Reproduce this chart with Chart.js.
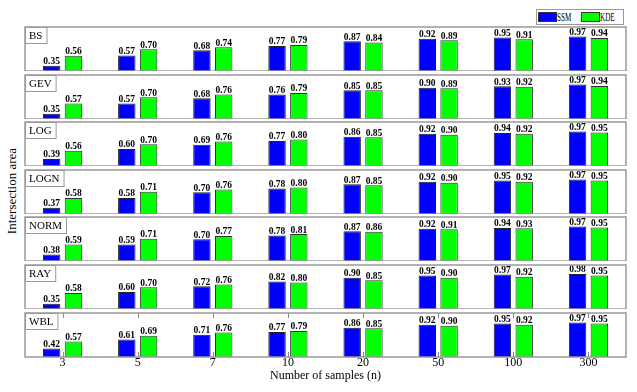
<!DOCTYPE html>
<html>
<head>
<meta charset="utf-8">
<script src="https://cdn.jsdelivr.net/npm/chart.js@4.4.1/dist/chart.umd.min.js"></script>
<style>
  body { margin: 0; background: #fff; }
  #wrap { position: relative; width: 637px; height: 392px; overflow: hidden; font-family: "Liberation Serif", serif; }
  canvas { position: absolute; left: 0; }
  #ytitle { position: absolute; left: 12px; top: 191px; transform: translate(-50%, -50%) rotate(-90deg); font-size: 13px; white-space: nowrap; }
  #legend { position: absolute; left: 536px; top: 9px; width: 86px; height: 14px; border: 1px solid #999; background: #fff; }
  .sw { position: absolute; top: 2px; width: 17px; height: 8px; border: 1px solid #333; }
  .lt { position: absolute; top: 0px; font-size: 11.5px; line-height: 14px; transform: scaleX(0.62); transform-origin: left center; }
</style>
</head>
<body>
<div id="wrap">
  <div id="ytitle">Intersection area</div>
  <div id="legend">
    <div class="sw" style="left:1px;background:#0000ff"></div><div class="lt" style="left:20px">SSM</div>
    <div class="sw" style="left:44px;background:#00ff00"></div><div class="lt" style="left:63px">KDE</div>
  </div>
</div>
<script>
const categories = ['3', '5', '7', '10', '20', '50', '100', '300'];
const panelNames = ['BS', 'GEV', 'LOG', 'LOGN', 'NORM', 'RAY', 'WBL'];

const ssmBS   = [0.35, 0.57, 0.68, 0.77, 0.87, 0.92, 0.95, 0.97];
const kdeBS   = [0.56, 0.70, 0.74, 0.79, 0.84, 0.89, 0.91, 0.94];
const ssmGEV  = [0.35, 0.57, 0.68, 0.76, 0.85, 0.90, 0.93, 0.97];
const kdeGEV  = [0.57, 0.70, 0.76, 0.79, 0.85, 0.89, 0.92, 0.94];
const ssmLOG  = [0.39, 0.60, 0.69, 0.77, 0.86, 0.92, 0.94, 0.97];
const kdeLOG  = [0.56, 0.70, 0.76, 0.80, 0.85, 0.90, 0.92, 0.95];
const ssmLOGN = [0.37, 0.58, 0.70, 0.78, 0.87, 0.92, 0.95, 0.97];
const kdeLOGN = [0.58, 0.71, 0.76, 0.80, 0.85, 0.90, 0.92, 0.95];
const ssmNORM = [0.38, 0.59, 0.70, 0.78, 0.87, 0.92, 0.94, 0.97];
const kdeNORM = [0.59, 0.71, 0.77, 0.81, 0.86, 0.91, 0.93, 0.95];
const ssmRAY  = [0.35, 0.60, 0.72, 0.82, 0.90, 0.95, 0.97, 0.98];
const kdeRAY  = [0.58, 0.70, 0.76, 0.80, 0.85, 0.90, 0.92, 0.95];
const ssmWBL  = [0.42, 0.61, 0.71, 0.77, 0.86, 0.92, 0.95, 0.97];
const kdeWBL  = [0.57, 0.69, 0.76, 0.79, 0.85, 0.90, 0.92, 0.95];

const ssmData = [ssmBS, ssmGEV, ssmLOG, ssmLOGN, ssmNORM, ssmRAY, ssmWBL];
const kdeData = [kdeBS, kdeGEV, kdeLOG, kdeLOGN, kdeNORM, kdeRAY, kdeWBL];

const panelTops = [27, 75, 122, 170, 217, 265, 313];
const panelHeight = 44;
const extraTop = 6; // room so labels are not clipped
const serif = '"Liberation Serif", "Times New Roman", serif';

// frame, name box, value labels
const panelPlugin = {
  id: 'panel',
  afterDatasetsDraw(chart) {
    const ctx = chart.ctx;
    ctx.save();
    ctx.font = 'bold 9.5px ' + serif;
    ctx.fillStyle = '#000';
    ctx.textAlign = 'center';
    ctx.textBaseline = 'alphabetic';
    chart.data.datasets.forEach((ds, i) => {
      chart.getDatasetMeta(i).data.forEach((bar, j) => {
        ctx.fillText(ds.data[j].toFixed(2), bar.x, bar.y - 1.5);
      });
    });
    ctx.restore();
  },
  afterDraw(chart, args, opts) {
    const ctx = chart.ctx;
    const a = chart.chartArea;
    ctx.save();
    ctx.strokeStyle = '#999';
    ctx.lineWidth = 1.5;
    ctx.strokeRect(a.left, a.top, a.right - a.left, a.bottom - a.top);

    if (opts.ticks) {
      const xs = chart.scales.x;
      ctx.lineWidth = 1;
      ctx.strokeStyle = '#888';
      ctx.beginPath();
      for (let i = 0; i < categories.length; i++) {
        const x = Math.round(xs.getPixelForTick(i)) + 0.5;
        ctx.moveTo(x, a.top); ctx.lineTo(x, a.top + 5);
        ctx.moveTo(x, a.bottom); ctx.lineTo(x, a.bottom - 5);
      }
      ctx.stroke();
    }

    ctx.font = '11px ' + serif;
    const w = ctx.measureText(opts.name).width + 8;
    ctx.fillStyle = '#fff';
    ctx.fillRect(a.left, a.top, w, 16);
    ctx.lineWidth = 1;
    ctx.strokeStyle = '#999';
    ctx.strokeRect(a.left + 0.5, a.top + 0.5, w, 16);
    ctx.fillStyle = '#000';
    ctx.textBaseline = 'middle';
    ctx.fillText(opts.name, a.left + 4, a.top + 9);
    ctx.restore();
  }
};

function makePanel(p) {
  const last = p === panelNames.length - 1;
  const canvas = document.createElement('canvas');
  const h = (last ? 392 - panelTops[p] : panelHeight) + extraTop;
  canvas.width = 637;
  canvas.height = h;
  canvas.style.top = (panelTops[p] - extraTop) + 'px';
  document.getElementById('wrap').appendChild(canvas);

  new Chart(canvas.getContext('2d'), {
    type: 'bar',
    data: {
      labels: categories,
      datasets: [
        { label: 'SSM', data: ssmData[p], backgroundColor: '#0000ff', borderColor: '#222', borderWidth: 1 },
        { label: 'KDE', data: kdeData[p], backgroundColor: '#00ff00', borderColor: '#333', borderWidth: 1 }
      ]
    },
    options: {
      responsive: false,
      animation: false,
      devicePixelRatio: 1,
      layout: { padding: { left: 25, right: 11, top: extraTop, bottom: last ? 10 : 0 } },
      datasets: { bar: { categoryPercentage: 0.58, barPercentage: 0.8 } },
      plugins: {
        legend: { display: false },
        tooltip: { enabled: false },
        panel: { name: panelNames[p], ticks: last }
      },
      scales: {
        x: {
          display: last,
          offset: true,
          grid: { display: false, drawTicks: false },
          border: { display: false },
          ticks: { color: '#000', padding: 0, font: { family: serif, size: 12, lineHeight: 1 } },
          title: {
            display: last,
            text: 'Number of samples (n)',
            color: '#000',
            padding: { top: 1, bottom: 0 },
            font: { family: serif, size: 12, lineHeight: 1 }
          }
        },
        y: { display: false, min: 0.24, max: 1.17 }
      }
    },
    plugins: [panelPlugin]
  });
}

for (let p = 0; p < panelNames.length; p++) makePanel(p);
</script>
</body>
</html>
